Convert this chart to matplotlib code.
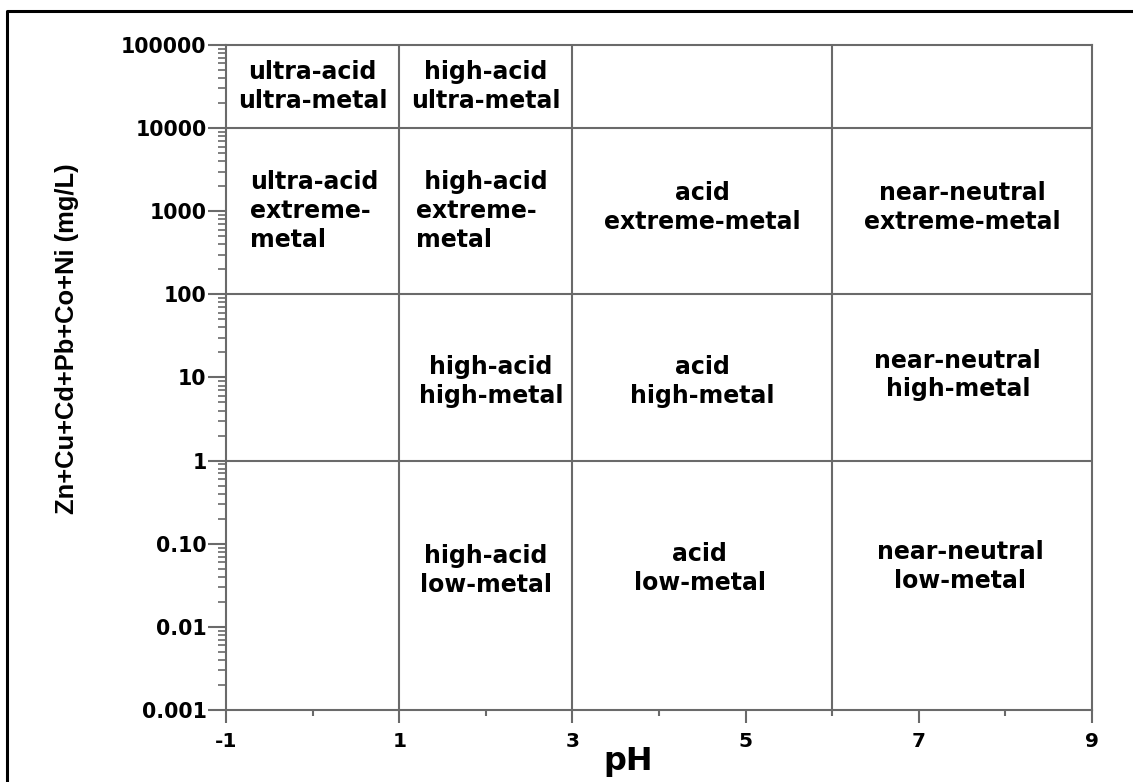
import matplotlib.pyplot as plt
from matplotlib.lines import Line2D
from matplotlib.ticker import FixedLocator, FixedFormatter, LogLocator, NullFormatter

# Ficklin-type classification: pH against dissolved base metals
ph_bounds = [1, 3, 6]
metal_bounds = [1, 100, 10000]

x_ticks = [-1, 1, 3, 5, 7, 9]
x_minor = [0, 2, 4, 6, 8]
y_ticks = [0.001, 0.01, 0.1, 1, 10, 100, 1000, 10000, 100000]
y_tick_labels = ["0.001", "0.01", "0.10", "1", "10", "100", "1000", "10000", "100000"]

region_names = [
    "ultra-acid\nultra-metal",
    "high-acid\nultra-metal",
    "ultra-acid\nextreme-\nmetal",
    " high-acid\nextreme-\nmetal",
    "acid\nextreme-metal",
    "near-neutral\nextreme-metal",
    "high-acid\nhigh-metal",
    "acid\nhigh-metal",
    "near-neutral\nhigh-metal",
    "high-acid\nlow-metal",
    "acid\nlow-metal",
    "near-neutral\nlow-metal",
]
# (pH, metal, horizontal alignment)
region_pos = [
    (0.0, 31623, "center"),
    (2.0, 31623, "center"),
    (-0.72, 1000, "left"),
    (1.19, 1000, "left"),
    (4.5, 1100, "center"),
    (7.5, 1100, "center"),
    (2.06, 9.0, "center"),
    (4.5, 9.0, "center"),
    (7.45, 10.7, "center"),
    (2.0, 0.048, "center"),
    (4.47, 0.05, "center"),
    (7.48, 0.053, "center"),
]

grid_col = "#6a6a6a"
bold = dict(family="DejaVu Sans", weight="bold", color="black")

fig = plt.figure(figsize=(11.33, 7.82), dpi=100)
ax = fig.add_axes([0.1995, 0.0921, 0.7643, 0.8504])
ax.set_yscale("log")
ax.set_xlim(-1, 9)
ax.set_ylim(0.001, 100000)

for x in ph_bounds:
    ax.axvline(x, color=grid_col, lw=1.5)
for y in metal_bounds:
    ax.axhline(y, color=grid_col, lw=1.5)

for sp in ax.spines.values():
    sp.set_color(grid_col)
    sp.set_linewidth(1.5)

ax.xaxis.set_major_locator(FixedLocator(x_ticks))
ax.xaxis.set_minor_locator(FixedLocator(x_minor))
ax.set_xticklabels([str(v) for v in x_ticks], fontsize=14.5, **bold)
ax.tick_params(axis="x", which="major", length=9, width=1.5, color=grid_col, pad=7)
ax.tick_params(axis="x", which="minor", length=4.5, width=1.5, color=grid_col)

ax.yaxis.set_major_locator(FixedLocator(y_ticks))
ax.yaxis.set_major_formatter(FixedFormatter(y_tick_labels))
ax.yaxis.set_minor_locator(LogLocator(base=10, subs=range(2, 10), numticks=20))
ax.yaxis.set_minor_formatter(NullFormatter())
for lab in ax.get_yticklabels():
    lab.set_fontsize(14.8)
    lab.set_fontfamily("DejaVu Sans")
    lab.set_fontweight("bold")
ax.tick_params(axis="y", which="major", length=13, width=1.5, color=grid_col, pad=1)
ax.tick_params(axis="y", which="minor", length=5.5, width=1.2, color=grid_col)

for name, (px, py, ha) in zip(region_names, region_pos):
    ax.text(px, py, name, ha=ha, va="center", multialignment=ha,
            fontsize=17, linespacing=1.25, **bold)

ax.text(0.464, -0.054, "pH", transform=ax.transAxes, ha="center", va="top",
        fontsize=23, **bold)
ax.text(-0.184, 0.559, "Zn+Cu+Cd+Pb+Co+Ni (mg/L)", transform=ax.transAxes,
        rotation=90, ha="center", va="center", fontsize=18.4,
        family="Liberation Sans", weight="bold")

# outer frame on the left and top edges
fig.add_artist(Line2D([0.0062, 0.0062, 1.0], [0.0, 0.986, 0.986],
                      transform=fig.transFigure, color="black", lw=2.2))

fig.savefig("out.png", dpi=100)
